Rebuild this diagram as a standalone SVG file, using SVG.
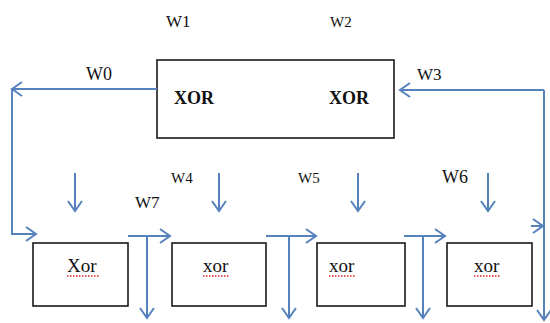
<svg xmlns="http://www.w3.org/2000/svg" width="550" height="323" viewBox="0 0 550 323">
<style>
.box{fill:#fff;stroke:#1a1a1a;stroke-width:1.6}
.lbl{font-family:"Liberation Serif","Times New Roman",serif;fill:#111}
.gate{font-family:"Liberation Serif","Times New Roman",serif;font-size:19px;fill:#111}
.big{font-family:"Liberation Serif","Times New Roman",serif;font-size:18px;font-weight:bold;fill:#111}
.wire{fill:none;stroke:#5582bc;stroke-width:2}
.arr{marker-end:url(#ah)}
.squig{fill:none;stroke:#e02020;stroke-width:1.3;stroke-dasharray:1.5 1.5}
</style>
<defs>
<marker id="ah" markerUnits="userSpaceOnUse" markerWidth="20" markerHeight="20" viewBox="-12 -10 14 20" refX="0" refY="0" orient="auto">
<path d="M-10,-7 L0,0 L-10,7" fill="none" stroke="#5582bc" stroke-width="2"/>
</marker>
</defs>
<g id="labels">
<text class="lbl" x="166" y="27" font-size="17">W1</text>
<text class="lbl" x="330" y="27" font-size="15">W2</text>
<text class="lbl" x="86" y="80" font-size="18">W0</text>
<text class="lbl" x="417" y="80" font-size="17">W3</text>
<text class="lbl" x="171" y="183" font-size="15">W4</text>
<text class="lbl" x="135" y="208" font-size="17">W7</text>
<text class="lbl" x="298" y="183" font-size="15">W5</text>
<text class="lbl" x="442" y="183" font-size="18">W6</text>
</g>
<g id="main">
<rect class="box" x="157" y="60" width="237" height="78"/>
<text class="big" x="174" y="104">XOR</text>
<text class="big" x="329" y="104">XOR</text>
</g>
<g id="g1">
<rect class="box" x="33" y="243" width="95" height="63"/>
<text class="gate" x="67" y="272">Xor</text>
<path class="squig" d="M67,276 H100"/>
</g>
<g id="g2">
<rect class="box" x="172" y="243" width="94" height="63"/>
<text class="gate" x="203" y="272">xor</text>
<path class="squig" d="M203,276 H229"/>
</g>
<g id="g3">
<rect class="box" x="317" y="243" width="88" height="63"/>
<text class="gate" x="329" y="272">xor</text>
<path class="squig" d="M329,276 H355"/>
</g>
<g id="g4">
<rect class="box" x="447" y="243" width="85" height="63"/>
<text class="gate" x="474" y="272">xor</text>
<path class="squig" d="M474,276 H500"/>
</g>
<g id="connectors">
<path class="wire arr" d="M157,89 H12"/>
<path class="wire arr" d="M12,89 V234 H36"/>
<path class="wire arr" d="M544,90 H400"/>
<path class="wire arr" d="M544,90 V320"/>
<path class="wire arr" d="M531,226 H543"/>
<path class="wire arr" d="M75,173 V211"/>
<path class="wire arr" d="M219,173 V211"/>
<path class="wire arr" d="M358,173 V211"/>
<path class="wire arr" d="M488,173 V211"/>
<path class="wire arr" d="M128,236 H170"/>
<path class="wire arr" d="M147,236 V318"/>
<path class="wire arr" d="M266,236 H316"/>
<path class="wire arr" d="M289,236 V318"/>
<path class="wire arr" d="M404,236 H445"/>
<path class="wire arr" d="M423,236 V318"/>
</g>
</svg>
